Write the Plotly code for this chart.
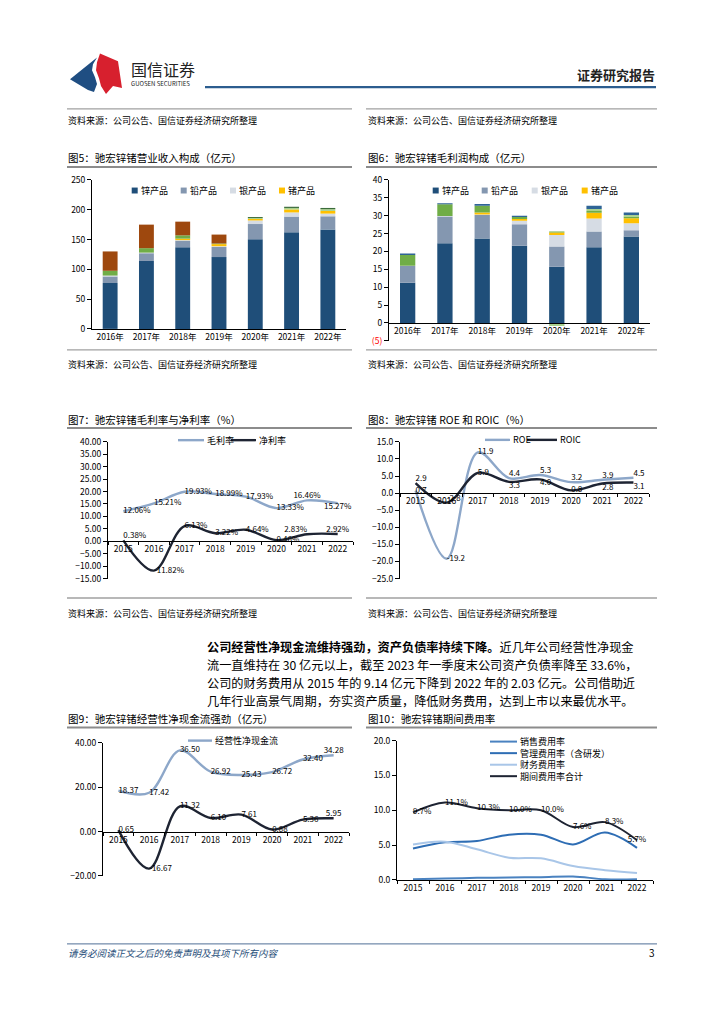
import plotly.graph_objects as go

FONT = "Noto Sans CJK SC"
W, H = 724, 1024

# ---------------- data ----------------
bar_years = ["2016年", "2017年", "2018年", "2019年", "2020年", "2021年", "2022年"]
line_years = ["2015", "2016", "2017", "2018", "2019", "2020", "2021", "2022"]
bar_legend_names = ["锌产品", "铅产品", "银产品", "锗产品"]

# Fig5 revenue composition (亿元)
rev_zinc = [77, 114, 137, 120.5, 150.5, 162, 167]
rev_lead = [11, 13, 11, 17, 25.5, 26.5, 22]
rev_silver = [1.5, 1, 1, 1.3, 6, 7, 4.5]
rev_germanium = [0, 0, 2.5, 3.5, 2.5, 5, 4.5]
rev_green = [8, 7.5, 5.5, 1, 0, 0, 0]
rev_lightgreen = [0, 0, 0, 0, 1.7, 2.5, 3]
rev_brown = [32.5, 39.5, 23, 15, 0, 0, 0]
rev_dark = [0, 0, 0, 0, 1.6, 2, 2]

# Fig6 gross profit composition (亿元)
gp_zinc = [11.2, 22.3, 23.6, 21.6, 15.7, 21.2, 24.2]
gp_lead = [4.7, 7.5, 6.6, 6.0, 5.7, 4.4, 1.7]
gp_silver = [0.1, 0.1, 0.1, 1.0, 3.2, 3.6, 2.0]
gp_germanium = [0, 0, 0.6, 0.5, 0.7, 1.6, 1.4]
gp_green = [3.0, 3.3, 1.9, 0.5, 0.3, 0.5, 0.5]
gp_lightgreen = [-0.3, 0, 0, -0.3, -0.9, 0.6, 0.4]
gp_blue = [0.4, 0.3, 0.5, 0.4, 0, 0.9, 0.7]

# Fig7 margins (%)
gross_margin = [12.06, 15.21, 19.93, 18.99, 17.93, 13.33, 16.46, 15.27]
net_margin = [0.38, -11.82, 6.13, 3.22, 4.64, 0.46, 2.83, 2.92]

# Fig8 ROE / ROIC (%)
roe = [0.7, -19.2, 11.9, 4.4, 5.3, 3.2, 3.9, 4.5]
roic = [2.9, -2.8, 5.9, 3.3, 4.0, 0.8, 2.8, 3.1]

# Fig9 operating cash flow (亿元)
op_cash = [18.37, 17.42, 36.50, 26.92, 25.43, 26.72, 32.40, 34.28]
net_profit = [0.65, -16.67, 11.32, 6.10, 7.61, 0.88, 5.36, 5.95]

# Fig10 expense ratios (%)
sales_rate = [0.1, 0.2, 0.3, 0.35, 0.4, 0.5, 0.1, 0.1]
mgmt_rate = [4.5, 5.4, 5.6, 6.5, 6.5, 5.1, 6.8, 4.6]
fin_rate = [5.1, 5.5, 4.4, 3.2, 3.1, 2.0, 1.4, 1.0]
total_rate = [9.7, 11.1, 10.3, 10.0, 10.0, 7.6, 8.3, 5.7]

# ---------------- styles ----------------
C_ZINC, C_LEAD, C_SILVER, C_GE = "#1F4E79", "#8497B0", "#D6DCE4", "#FFC000"
C_GREEN, C_LGREEN, C_BROWN, C_DARK, C_BLUE2 = "#70AD47", "#A9D18E", "#9E480E", "#3B6B3A", "#2F6496"
C_LIGHT, C_BLACK = "#8DA7C9", "#1E2433"
C_SALES, C_MGMT, C_FIN = "#4A82C0", "#2E6DB4", "#A9C6E8"

MR, TR, BR, TC, BC, MC, TL = ("middle right", "top right", "bottom right", "top center",
                              "bottom center", "middle center", "top left")


def fx(px):
    return px / W


def fy(py):
    return 1 - py / H


fig = go.Figure()


def add_bar(y, color, xa, ya):
    fig.add_trace(go.Bar(x=bar_years, y=y, marker=dict(color=color, line=dict(width=0)),
                         width=0.41, xaxis=xa, yaxis=ya, showlegend=False, hoverinfo="skip"))


def add_line(y, color, xa, ya, positions=None, fmt="{:.2f}", suffix="", width=2.4):
    if positions:
        kw = dict(mode="lines+text", text=[fmt.format(v) + suffix for v in y],
                  textposition=positions, textfont=dict(family=FONT, size=8, color="#000"))
    else:
        kw = dict(mode="lines")
    fig.add_trace(go.Scatter(x=line_years, y=y, line=dict(color=color, width=width, shape="spline", smoothing=1),
                             xaxis=xa, yaxis=ya, showlegend=False, hoverinfo="skip", cliponaxis=False, **kw))


# Fig5 bars
for arr, col in [(rev_zinc, C_ZINC), (rev_lead, C_LEAD), (rev_silver, C_SILVER), (rev_germanium, C_GE),
                 (rev_green, C_GREEN), (rev_lightgreen, C_LGREEN), (rev_brown, C_BROWN), (rev_dark, C_DARK)]:
    add_bar(arr, col, "x", "y")

# Fig6 bars
for arr, col in [(gp_zinc, C_ZINC), (gp_lead, C_LEAD), (gp_silver, C_SILVER), (gp_germanium, C_GE),
                 (gp_green, C_GREEN), (gp_lightgreen, C_LGREEN), (gp_blue, C_BLUE2)]:
    add_bar(arr, col, "x2", "y2")

# Fig7 lines
add_line(gross_margin, C_LIGHT, "x3", "y3", positions=[MR] * 6 + [TC, BC], fmt="{:.2f}", suffix="%")
add_line(net_margin, C_BLACK, "x3", "y3", positions=[TR, MR, MR, MR, MR, MR, TL, TC], fmt="{:.2f}", suffix="%")

# Fig8 lines
add_line(roe, C_LIGHT, "x4", "y4", positions=[MR, MR, MR, TR, TR, TR, TR, TR], fmt="{:.1f}")
add_line(roic, C_BLACK, "x4", "y4", positions=[TR, TR, MR, BR, BR, MR, BR, BR], fmt="{:.1f}")

# Fig9 lines
add_line(op_cash, C_LIGHT, "x5", "y5", positions=[MR] * 7 + [TC], fmt="{:.2f}")
add_line(net_profit, C_BLACK, "x5", "y5", positions=[MR] * 7 + [TC], fmt="{:.2f}")

# Fig10 lines
add_line(sales_rate, C_SALES, "x6", "y6", width=2)
add_line(mgmt_rate, C_MGMT, "x6", "y6", width=2)
add_line(fin_rate, C_FIN, "x6", "y6", width=2)
add_line(total_rate, C_BLACK, "x6", "y6", positions=[MR] * 7 + [MC], fmt="{:.1f}", suffix="%", width=2)

tickfont = dict(family=FONT, size=8.5, color="#000")


def xaxis(d0, d1, n, anchor=None, position=None, boundary_ticks=False):
    a = dict(domain=[fx(d0), fx(d1)], type="category", range=[-0.5, n - 0.5], showline=True,
             linecolor="#000", linewidth=1, showgrid=False, zeroline=False, tickfont=tickfont,
             ticks="outside" if boundary_ticks else "", ticklen=3, tickcolor="#000", fixedrange=True)
    if boundary_ticks:
        a["tickson"] = "boundaries"
    if position is not None:
        a.update(anchor="free", position=position)
    else:
        a.update(anchor=anchor)
    return a


def yaxis(top, bottom, rng, tickvals, anchor, ticktext=None, fmt=None, suffix=""):
    a = dict(domain=[fy(bottom), fy(top)], range=rng, tickvals=tickvals, anchor=anchor, showline=True,
             linecolor="#000", linewidth=1, showgrid=False, zeroline=False, ticks="outside", ticklen=4,
             tickcolor="#000", tickfont=tickfont, fixedrange=True)
    if ticktext is not None:
        a["ticktext"] = ticktext
    if fmt is not None:
        a["tickformat"] = fmt
    if suffix:
        a["ticksuffix"] = suffix
    return a


def zero_pos(top, bottom, rng):
    frac = (0 - rng[0]) / (rng[1] - rng[0])
    return fy(bottom - frac * (bottom - top))


r5, r6, r7, r8, r9, r10 = [0, 250], [-5, 40], [-15, 40], [-25, 15], [-20, 40], [0, 20]
g6 = (175, 337.7)
g7 = (440, 578.3)
g8 = (440, 578.3)
g9 = (744.3, 879.3)
g10 = (742.3, 883.3)

y6_text = ['<span style="color:#FF0000">(5)</span>'] + [str(v) for v in range(0, 45, 5)]

fig.update_layout(
    width=W, height=H, autosize=False, margin=dict(l=0, r=0, t=0, b=0),
    paper_bgcolor="white", plot_bgcolor="white", barmode="relative", showlegend=False,
    font=dict(family=FONT, size=9, color="#000"),
    xaxis=xaxis(92, 346, 7, anchor="y"),
    yaxis=yaxis(175, 325.7, r5, list(range(0, 300, 50)), "x"),
    xaxis2=xaxis(389, 650, 7, position=zero_pos(*g6, r6)),
    yaxis2=yaxis(g6[0], g6[1], r6, list(range(-5, 45, 5)), "x2", ticktext=y6_text),
    xaxis3=xaxis(108, 353, 8, position=zero_pos(*g7, r7), boundary_ticks=True),
    yaxis3=yaxis(g7[0], g7[1], r7, list(range(-15, 45, 5)), "x3", fmt=".2f", suffix="%"),
    xaxis4=xaxis(400, 649, 8, position=zero_pos(*g8, r8), boundary_ticks=True),
    yaxis4=yaxis(g8[0], g8[1], r8, list(range(-25, 20, 5)), "x4", fmt=".1f"),
    xaxis5=xaxis(103, 349, 8, position=zero_pos(*g9, r9), boundary_ticks=True),
    yaxis5=yaxis(g9[0], g9[1], r9, [-20, 0, 20, 40], "x5", fmt=".2f"),
    xaxis6=xaxis(397, 653, 8, anchor="y6", boundary_ticks=True),
    yaxis6=yaxis(g10[0], g10[1], r10, [0, 5, 10, 15, 20], "x6", fmt=".1f", suffix="%"),
)


def text(x, y, s, size=9, color="#000", xanchor="left", yanchor="middle"):
    fig.add_annotation(x=fx(x), y=fy(y), xref="paper", yref="paper", text=s, showarrow=False,
                       xanchor=xanchor, yanchor=yanchor, align="left", borderpad=0,
                       font=dict(size=size, color=color, family=FONT))


def hline(x0, x1, y, color, width):
    fig.add_shape(type="line", xref="paper", yref="paper", x0=fx(x0), x1=fx(x1), y0=fy(y), y1=fy(y),
                  line=dict(color=color, width=width))


def square(x, y, color, s=6):
    fig.add_shape(type="rect", xref="paper", yref="paper", x0=fx(x), x1=fx(x + s), y0=fy(y + s / 2),
                  y1=fy(y - s / 2), line=dict(width=0), fillcolor=color)


def path(points, color):
    d = "M " + " L ".join(f"{fx(a):.5f},{fy(b):.5f}" for a, b in points) + " Z"
    fig.add_shape(type="path", xref="paper", yref="paper", path=d, fillcolor=color, line=dict(width=0))


# ---------------- header ----------------
path([(70, 73), (97, 51), (93, 58), (92, 64), (95, 71), (97, 78), (94, 86), (88, 84)], "#1F4E82")
path([(100, 47), (118, 55), (122, 82), (113, 80), (106, 88), (101, 80), (99, 72), (96, 64), (97, 56)], "#D7202E")
text(130, 63, "国信证券", size=16, color="#222")
text(130, 77, "GUOSEN SECURITIES", size=6, color="#222")
text(656, 68, "<b>证券研究报告</b>", size=13, color="#222", xanchor="right")
hline(205, 656, 81, "#2C5D8F", 2.2)

# ---------------- section separators & captions ----------------
SRC = "资料来源：公司公告、国信证券经济研究所整理"
for yline, ysrc in [(103, 115), (347, 362), (598, 614)]:
    hline(67, 352, yline, "#A0A0A0", 1.3)
    hline(366, 657, yline, "#A0A0A0", 1.3)
    text(67, ysrc, SRC, size=9)
    text(367, ysrc, SRC, size=9)

titles = [
    (67, 152, "图5：驰宏锌锗营业收入构成（亿元）"), (367, 152, "图6：驰宏锌锗毛利润构成（亿元）"),
    (67, 417, "图7：驰宏锌锗毛利率与净利率（%）"), (367, 417, "图8：驰宏锌锗 ROE 和 ROIC（%）"),
    (67, 720, "图9：驰宏锌锗经营性净现金流强劲（亿元）"), (367, 720, "图10：驰宏锌锗期间费用率"),
]
for x, y, s in titles:
    text(x, y, s, size=10.5)
for y in (162, 426, 729):
    hline(67, 352, y, "#8C8C8C", 2)
    hline(366, 657, y, "#8C8C8C", 2)

# ---------------- bar legends ----------------
bar_cols = [C_ZINC, C_LEAD, C_SILVER, C_GE]
for xs in ([131.7, 180.7, 230, 279], [432.7, 481.7, 531.7, 581.7]):
    for xx, col, nm in zip(xs, bar_cols, bar_legend_names):
        square(xx, 185.7, col)
        text(xx + 8, 185.7, nm, size=9)


# ---------------- line legends ----------------
def leg_line(x0, x1, y, color, label, w=2.4):
    fig.add_shape(type="line", xref="paper", yref="paper", x0=fx(x0), x1=fx(x1), y0=fy(y), y1=fy(y),
                  line=dict(color=color, width=w))
    text(x1 + 1.5, y, label, size=9)


leg_line(178, 204, 438.3, C_LIGHT, "毛利率")
leg_line(231, 256, 438.3, C_BLACK, "净利率")
leg_line(485, 510, 438, C_LIGHT, "ROE")
leg_line(527, 557, 438, C_BLACK, "ROIC")
leg_line(188, 212, 742.3, C_LIGHT, "经营性净现金流")
for yy, col, nm in [(743.3, C_SALES, "销售费用率"), (755, C_MGMT, "管理费用率（含研发）"),
                    (766.7, C_FIN, "财务费用率"), (778.3, C_BLACK, "期间费用率合计")]:
    leg_line(490, 517, yy, col, nm, w=2)

# ---------------- paragraph ----------------
para = [
    "<b>公司经营性净现金流维持强劲，资产负债率持续下降。</b>近几年公司经营性净现金",
    "流一直维持在 30 亿元以上，截至 2023 年一季度末公司资产负债率降至 33.6%，",
    "公司的财务费用从 2015 年的 9.14 亿元下降到 2022 年的 2.03 亿元。公司借助近",
    "几年行业高景气周期，夯实资产质量，降低财务费用，达到上市以来最优水平。",
]
for i, s in enumerate(para):
    text(206, 648 + 18 * i, s, size=12.2)

# ---------------- footer ----------------
hline(67, 657, 948, "#4F6F96", 1)
text(67, 957, "<i>请务必阅读正文之后的免责声明及其项下所有内容</i>", size=9.5, color="#1F4E79")
text(656, 957, "3", size=10, xanchor="right")

fig.write_html("out.html", config={"displayModeBar": False, "staticPlot": True},
               post_script="document.body.style.margin='0px';document.body.style.padding='0px';")
